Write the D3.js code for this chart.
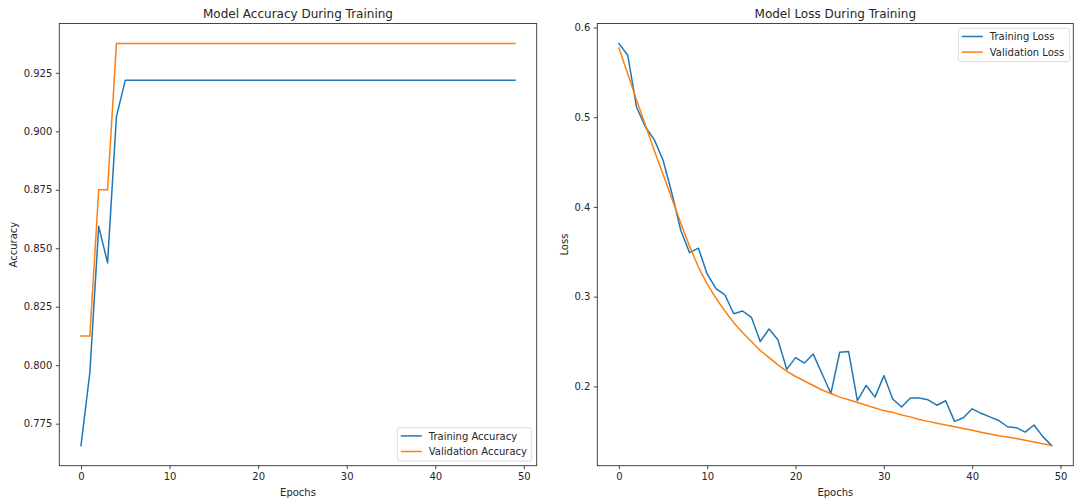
<!DOCTYPE html>
<html>
<head>
<meta charset="utf-8">
<script src="https://cdn.jsdelivr.net/npm/d3@7"></script>
<style>
  html, body { margin: 0; padding: 0; background: #fff; }
  svg { display: block; }
  text { font-family: "DejaVu Sans", sans-serif; fill: #262626; }
</style>
</head>
<body>
<svg id="chart" width="1074" height="502"></svg>
<script>
// Training history, one entry per epoch
const epochs = d3.range(0, 50);

const trainAccuracy = [
  0.765625, 0.796875, 0.859375, 0.84375, 0.90625,
  0.921875, 0.921875, 0.921875, 0.921875, 0.921875,
  0.921875, 0.921875, 0.921875, 0.921875, 0.921875,
  0.921875, 0.921875, 0.921875, 0.921875, 0.921875,
  0.921875, 0.921875, 0.921875, 0.921875, 0.921875,
  0.921875, 0.921875, 0.921875, 0.921875, 0.921875,
  0.921875, 0.921875, 0.921875, 0.921875, 0.921875,
  0.921875, 0.921875, 0.921875, 0.921875, 0.921875,
  0.921875, 0.921875, 0.921875, 0.921875, 0.921875,
  0.921875, 0.921875, 0.921875, 0.921875, 0.921875
];

const valAccuracy = [
  0.8125, 0.8125, 0.875, 0.875, 0.9375,
  0.9375, 0.9375, 0.9375, 0.9375, 0.9375,
  0.9375, 0.9375, 0.9375, 0.9375, 0.9375,
  0.9375, 0.9375, 0.9375, 0.9375, 0.9375,
  0.9375, 0.9375, 0.9375, 0.9375, 0.9375,
  0.9375, 0.9375, 0.9375, 0.9375, 0.9375,
  0.9375, 0.9375, 0.9375, 0.9375, 0.9375,
  0.9375, 0.9375, 0.9375, 0.9375, 0.9375,
  0.9375, 0.9375, 0.9375, 0.9375, 0.9375,
  0.9375, 0.9375, 0.9375, 0.9375, 0.9375
];

const trainLoss = [
  0.582, 0.569, 0.511, 0.489, 0.475, 0.452, 0.415, 0.374, 0.349, 0.354,
  0.325, 0.309, 0.302, 0.281, 0.284, 0.277, 0.250, 0.264, 0.252, 0.219,
  0.232, 0.226, 0.236, 0.214, 0.192, 0.238, 0.239, 0.184, 0.201, 0.188,
  0.212, 0.186, 0.177, 0.187, 0.187, 0.185, 0.179, 0.184, 0.161, 0.165,
  0.175, 0.170, 0.166, 0.162, 0.155, 0.154, 0.149, 0.157, 0.144, 0.134
];

const valLoss = [
  0.577, 0.548, 0.519, 0.491, 0.463, 0.436, 0.409, 0.382, 0.356, 0.333,
  0.314, 0.298, 0.284, 0.271, 0.260, 0.250, 0.240, 0.232, 0.224, 0.217,
  0.211, 0.206, 0.201, 0.196, 0.192, 0.188, 0.185, 0.182, 0.179, 0.176,
  0.173, 0.171, 0.168, 0.166, 0.163, 0.161, 0.159, 0.157, 0.155, 0.153,
  0.151, 0.149, 0.147, 0.145, 0.1435, 0.142, 0.140, 0.138, 0.136, 0.134
];

const xTicks = [0, 10, 20, 30, 40, 50];
const accTicks = [0.775, 0.800, 0.825, 0.850, 0.875, 0.900, 0.925];
const lossTicks = [0.2, 0.3, 0.4, 0.5, 0.6];

const blue = "#1f77b4";
const orange = "#ff7f0e";

const svg = d3.select("#chart");

// pad a data extent by 5% on each side
function padded(ext) {
  const m = (ext[1] - ext[0]) * 0.05;
  return [ext[0] - m, ext[1] + m];
}

function panel(cfg) {
  const { left, right, top, bottom } = cfg.box;
  const g = svg.append("g");

  const x = d3.scaleLinear().domain(padded(d3.extent(epochs))).range([left, right]);
  const allY = cfg.series.flatMap(s => s.values);
  const y = d3.scaleLinear().domain(padded(d3.extent(allY))).range([bottom, top]);

  // series lines
  const line = d3.line().x((d, i) => x(epochs[i])).y(d => y(d));
  cfg.series.forEach(s => {
    g.append("path")
      .datum(s.values)
      .attr("fill", "none")
      .attr("stroke", s.color)
      .attr("stroke-width", 1.5)
      .attr("stroke-linejoin", "round")
      .attr("stroke-linecap", "square")
      .attr("d", line);
  });

  // axes
  const xAxis = d3.axisBottom(x).tickValues(xTicks).tickSize(3.5).tickPadding(4).tickFormat(d3.format("d"));
  const yAxis = d3.axisLeft(y).tickValues(cfg.yTicks).tickSize(3.5).tickPadding(3.5).tickFormat(cfg.yFormat);

  const gx = g.append("g").attr("transform", `translate(0,${bottom})`).call(xAxis);
  const gy = g.append("g").attr("transform", `translate(${left},0)`).call(yAxis);
  [gx, gy].forEach(a => {
    a.select(".domain").remove();
    a.selectAll(".tick line").attr("stroke", "#333").attr("stroke-width", 0.9);
    a.selectAll(".tick text").attr("font-size", 10).attr("fill", "#262626")
      .style("font-family", "'DejaVu Sans', sans-serif");
  });

  // frame
  g.append("rect")
    .attr("x", left).attr("y", top)
    .attr("width", right - left).attr("height", bottom - top)
    .attr("fill", "none").attr("stroke", "#333").attr("stroke-width", 0.9);

  // title and axis labels
  g.append("text")
    .attr("x", (left + right) / 2).attr("y", top - 6)
    .attr("text-anchor", "middle").attr("font-size", 12)
    .text(cfg.title);
  g.append("text")
    .attr("x", (left + right) / 2).attr("y", bottom + 30)
    .attr("text-anchor", "middle").attr("font-size", 10)
    .text("Epochs");
  g.append("text")
    .attr("transform", `translate(${cfg.yLabelX},${(top + bottom) / 2}) rotate(-90)`)
    .attr("text-anchor", "middle").attr("font-size", 10)
    .text(cfg.yLabel);

  // legend
  const L = cfg.legend;
  const lg = g.append("g");
  lg.append("rect")
    .attr("x", L.x).attr("y", L.y).attr("width", L.w).attr("height", L.h)
    .attr("rx", 2.5).attr("fill", "#fff").attr("fill-opacity", 0.8)
    .attr("stroke", "#d6d6d6").attr("stroke-width", 0.9);
  cfg.series.forEach((s, i) => {
    const cy = L.y + 8.2 + i * 15.6;
    lg.append("line")
      .attr("x1", L.x + 3.5).attr("x2", L.x + 24.5)
      .attr("y1", cy).attr("y2", cy)
      .attr("stroke", s.color).attr("stroke-width", 1.5);
    lg.append("text")
      .attr("x", L.x + 31.5).attr("y", cy + 3.6)
      .attr("font-size", 10)
      .text(s.name);
  });
}

panel({
  box: { left: 59.3, right: 536.7, top: 23.5, bottom: 465.7 },
  title: "Model Accuracy During Training",
  yLabel: "Accuracy",
  yLabelX: 17,
  yTicks: accTicks,
  yFormat: d3.format(".3f"),
  series: [
    { name: "Training Accuracy", values: trainAccuracy, color: blue },
    { name: "Validation Accuracy", values: valAccuracy, color: orange }
  ],
  legend: { x: 397.3, y: 427.7, w: 134.4, h: 33.3 }
});

panel({
  box: { left: 597.3, right: 1073.3, top: 23.5, bottom: 465.7 },
  title: "Model Loss During Training",
  yLabel: "Loss",
  yLabelX: 568,
  yTicks: lossTicks,
  yFormat: d3.format(".1f"),
  series: [
    { name: "Training Loss", values: trainLoss, color: blue },
    { name: "Validation Loss", values: valLoss, color: orange }
  ],
  legend: { x: 958.3, y: 28.3, w: 111.4, h: 33.4 }
});
</script>
</body>
</html>
